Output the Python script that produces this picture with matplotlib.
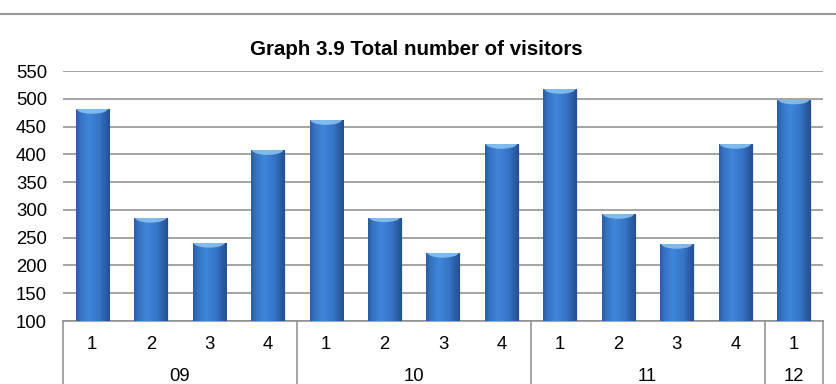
import matplotlib
matplotlib.use('Agg')
import matplotlib.pyplot as plt
import numpy as np
from matplotlib.colors import LinearSegmentedColormap
from matplotlib.patches import Ellipse, Rectangle
from matplotlib.lines import Line2D
import matplotlib.transforms as mtransforms

plt.rcParams['font.family'] = ['Liberation Sans', 'DejaVu Sans']

quarters = ['1', '2', '3', '4', '1', '2', '3', '4', '1', '2', '3', '4', '1']
years = ['09', '10', '11', '12']
year_sizes = [4, 4, 4, 1]
visitors = [481, 285, 240, 407, 461, 286, 222, 418, 517, 292, 238, 418, 498]

fig = plt.figure(figsize=(8.37, 3.84), dpi=100)
ax = fig.add_axes([63 / 837, 1 - 321 / 384, 760 / 837, 250 / 384])

x = np.arange(len(visitors))
w = 0.565
base = 100

# cylinder-like shading across each bar
cmap = LinearSegmentedColormap.from_list(
    'cyl', [(0, '#2b5ba6'), (0.12, '#3572c2'), (0.38, '#3f86da'),
            (0.7, '#3573c5'), (1, '#254f90')])
grad = np.linspace(0, 1, 64).reshape(1, -1)

bars = ax.bar(x, [v - base for v in visitors], bottom=base, width=w,
              color='#3a78c8', edgecolor='none', zorder=3)
for xi, v, b in zip(x, visitors, bars):
    # soft shadow on the right
    ax.add_patch(Rectangle((xi - w / 2 + 0.03, base), w, v - base - 2,
                           facecolor='#888888', alpha=0.18, edgecolor='none', zorder=2))
    im = ax.imshow(grad, cmap=cmap, aspect='auto', interpolation='bicubic',
                   extent=[xi - w / 2, xi + w / 2, base, v], zorder=4)
    im.set_clip_path(b)
    cap = Ellipse((xi, v + 1), w * 0.95, 18, facecolor='#8cc6f2',
                  edgecolor='none', alpha=0.85, zorder=5)
    ax.add_patch(cap)
    cap.set_clip_path(b)
    cap2 = Ellipse((xi, v + 7), w * 1.1, 12, facecolor='#3e82d6',
                   edgecolor='none', zorder=6)
    ax.add_patch(cap2)
    cap2.set_clip_path(b)

ax.set_xlim(-0.5, len(visitors) - 0.5)
ax.set_ylim(100, 550)
ax.set_yticks(np.arange(100, 551, 50))
ax.tick_params(axis='y', length=0, pad=11.5, labelsize=13.3)
ax.set_xticks(x)
ax.set_xticklabels(quarters)
ax.tick_params(axis='x', length=0, pad=10.5, labelsize=13.3)

ax.grid(True, axis='y', color='#8c8c8c', linewidth=1.1)
ax.set_axisbelow(True)
for s in ['left', 'right', 'top']:
    ax.spines[s].set_visible(False)
ax.spines['bottom'].set_color('#8c8c8c')
ax.spines['bottom'].set_linewidth(1.1)

trans = mtransforms.blended_transform_factory(ax.transData, ax.transAxes)
edges = np.concatenate([[0], np.cumsum(year_sizes)]) - 0.5
for e in edges:
    ax.plot([e, e], [0, -0.3], color='#8c8c8c', linewidth=1.1,
            transform=trans, clip_on=False)
for i, yr in enumerate(years):
    ax.text((edges[i] + edges[i + 1]) / 2, -0.222, yr, transform=trans,
            ha='center', va='center', fontsize=13.3)

fig.text(416 / 837, 1 - 55 / 384, 'Graph 3.9 Total number of visitors',
         ha='center', va='baseline', fontsize=14.8, fontweight='bold')
fig.add_artist(Line2D([0, 1], [1 - 14 / 384] * 2, color='#999999', linewidth=1.5))

fig.savefig('out.png', dpi=100)
